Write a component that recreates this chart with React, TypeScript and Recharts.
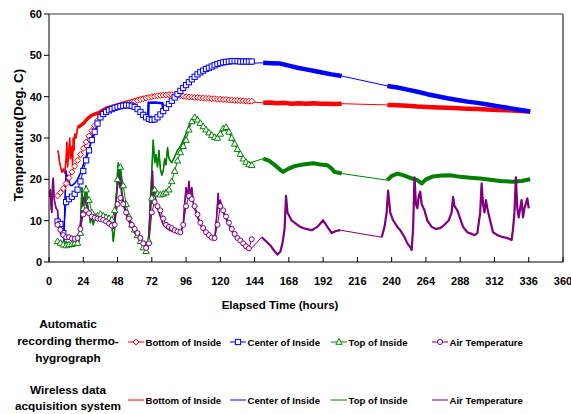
import React from 'react';
import { LineChart, Line, XAxis, YAxis, ReferenceLine, Label } from 'recharts';

type Pt = [number, number];

const xTicks = [0, 24, 48, 72, 96, 120, 144, 168, 192, 216, 240, 264, 288, 312, 336, 360];
const yTicks = [0, 10, 20, 30, 40, 50, 60];

// Automatic recording thermo-hygrograph: sampling hours
const autoHours = [
  6, 8, 10, 12, 14, 16, 18, 20, 22, 24,
  26, 28, 30, 32, 34, 36, 38, 40, 42, 44,
  46, 48, 50, 52, 54, 56, 58, 60, 62, 64,
  66, 68, 70, 72, 74, 76, 78, 80, 82, 84,
  86, 88, 90, 92, 94, 96, 98, 100, 102, 104,
  106, 108, 110, 112, 114, 116, 118, 120, 122, 124,
  126, 128, 130, 132, 134, 136, 138, 140, 142,
];

const autoBottom = [
  16, 16.8, 17.8, 19, 20.4, 21.8, 23.2, 24.6, 26, 27.5,
  29, 30.5, 31.8, 33, 34.2, 35.2, 35.9, 36.4, 36.8, 37.1,
  37.4, 37.7, 37.9, 38.1, 38.3, 38.5, 38.7, 38.9, 39.1, 39.3,
  39.5, 39.7, 39.8, 40, 40.1, 40.2, 40.3, 40.4, 40.4, 40.5,
  40.5, 40.4, 40.3, 40.2, 40.1, 40, 39.9, 39.9, 39.8, 39.8,
  39.7, 39.7, 39.6, 39.6, 39.5, 39.5, 39.4, 39.4, 39.3, 39.3,
  39.2, 39.2, 39.1, 39.1, 39, 39, 38.9, 38.9, 38.9,
];

const autoCenter = [
  9.8, 9.2, 7, 14.5, 15.2, 15.8, 16.5, 17.5, 19.5, 22,
  24.6, 27, 29.5, 31.5, 33.5, 35, 35.8, 36.3, 36.7, 37,
  37.3, 37.5, 37.7, 37.8, 37.9, 37.9, 37.8, 37.5, 37, 36.3,
  35.6, 35, 34.6, 34.4, 34.5, 35, 35.7, 36.5, 37.3, 38.2,
  39, 39.8, 40.6, 41.4, 42.1, 42.8, 43.5, 44.2, 44.8, 45.4,
  45.9, 46.3, 46.7, 47, 47.3, 47.6, 47.9, 48.1, 48.3, 48.4,
  48.5, 48.6, 48.6, 48.6, 48.5, 48.5, 48.5, 48.5, 48.5,
];

const autoTop = [
  5, 4.6, 4.2, 4, 4.2, 4.3, 4.5, 4.6, 7, 13,
  17.5, 15, 12, 11, 11.2, 11.6, 11.2, 10.8, 10.6, 10.2,
  12.5, 20, 23, 18.5, 14, 11, 9, 7.8, 6.5, 5,
  3.5, 2.6, 5, 15.5, 17.5, 16.5, 16.3, 16.5, 16.8, 17.5,
  19.5, 22, 24.5, 26.5, 28, 29.5, 32, 34, 35, 34.4,
  33.6, 32.8, 32, 31.3, 30.7, 30.2, 30, 31, 32.3, 32.6,
  31.5, 30, 28.6, 27.3, 26.1, 25, 24.2, 23.6, 23.4,
];

const autoAir = [
  9, 7.8, 6.5, 6, 6, 5.7, 5.6, 5.8, 8, 11.5,
  12.5, 11.8, 11, 10.7, 10.5, 10.4, 10.2, 9.8, 9.3, 8.8,
  9, 14, 15.5, 14, 12, 10.5, 9, 8, 7, 5.8,
  4.5, 3.4, 4.5, 12, 14.5, 13.5, 12.5, 10.5, 9, 8.5,
  8.2, 7.7, 7.4, 7.2, 9, 13.5, 16, 15.2, 13.5, 11.5,
  9.5, 8.2, 7.2, 6.5, 5.9, 5.8, 9, 13.5, 12.5, 11,
  9.5, 8, 6.8, 5.8, 5.2, 4.5, 3.8, 3.3, 5.5,
];

// Wireless data acquisition system: [hour, temperature] per recorded segment
const wBottom1: Pt[] = [
  [6.3, 27], [7.5, 24], [9, 21.7], [10, 22.5], [11, 21.5], [12, 25], [12.5, 29], [13, 23], [14, 27],
  [14.5, 30], [15, 25], [16, 28], [16.5, 23.5], [17, 30], [17.5, 27], [18, 31], [19, 30], [20, 32.5],
];
const wBottom2: Pt[] = [
  [20, 32.5], [22, 33], [24, 33.5], [26, 34.3], [28, 35], [30, 35.5], [32, 35.8], [34, 36], [36, 36.4],
  [38, 36.8], [40, 37.2], [44, 37.6], [48, 38], [52, 38.4], [56, 38.8], [60, 39.2], [64, 39.6], [68, 39.8],
  [72, 40], [76, 40.2], [80, 40.4], [84, 40.5], [88, 40.4], [92, 40.2], [96, 40], [100, 39.9], [104, 39.8],
  [108, 39.7], [112, 39.6], [116, 39.4], [120, 39.3], [124, 39.2], [128, 39.1], [132, 39], [136, 38.9],
  [140, 38.8], [143, 38.7],
];
const wBottom3: Pt[] = [
  [150, 38.5], [155, 38.6], [160, 38.4], [165, 38.5], [170, 38.3], [175, 38.4], [180, 38.3], [185, 38.4],
  [190, 38.3], [195, 38.3], [200, 38.2], [205, 38.3],
];
const wBottom4: Pt[] = [
  [237, 38], [244, 37.9], [251, 37.8], [258, 37.6], [265, 37.5], [272, 37.4], [279, 37.3], [286, 37.2],
  [293, 37.1], [300, 37], [307, 36.9], [314, 36.8], [321, 36.7], [328, 36.6], [337, 36.4],
];

const wCenter1: Pt[] = [
  [9.5, 4.6], [10.5, 5], [11, 12], [11.5, 18], [12, 22], [12.5, 20], [13, 21], [14, 19.5], [15, 18.5],
  [16, 18.5], [18, 19], [20, 20], [22, 21.5], [24, 23.5], [26, 25.5], [28, 27.5], [30, 29.5],
];
const wCenter2: Pt[] = [
  [30, 29.5], [32, 31.5], [34, 33.3], [36, 35], [40, 36.3], [44, 37], [48, 37.5], [52, 37.8], [56, 37.9],
  [60, 37.5], [64, 36.6], [68, 35.6], [69.5, 35.3], [69.7, 38.5], [74, 38.6], [79.5, 38.4], [80, 36.4],
  [82, 37.3], [84, 38.2], [88, 39.8], [92, 41.4], [96, 42.8], [100, 44.2], [104, 45.4], [108, 46.3],
  [112, 47], [116, 47.6], [120, 48.1], [124, 48.4], [128, 48.5], [132, 48.4], [136, 48.3], [140, 48.2],
  [143, 48.1],
];
const wCenter3: Pt[] = [
  [150, 48.2], [156, 48.1], [162, 48], [168, 47.5], [174, 47], [180, 46.6], [186, 46.2], [192, 45.8],
  [198, 45.4], [205, 45],
];
const wCenter4: Pt[] = [
  [237, 42.6], [244, 42.2], [251, 41.7], [258, 41.2], [265, 40.6], [272, 40.1], [279, 39.6], [286, 39.2],
  [293, 38.8], [300, 38.5], [307, 38.1], [314, 37.7], [321, 37.3], [328, 36.9], [337, 36.4],
];

const wTop1: Pt[] = [
  [7, 5], [8, 4.5], [10, 4], [12, 5], [14, 4], [16, 4.5], [18, 4.2], [20, 4.5], [21, 5], [22, 9], [23, 18],
  [24, 12], [25, 16], [26, 18.5], [27, 14], [28, 12], [29, 9.5], [30, 11], [31, 9], [32, 10.5], [34, 10],
  [36, 11.5], [38, 11], [40, 10.5], [42, 10], [44, 9], [45, 5], [46, 8], [47, 14], [48, 22], [48.6, 24],
  [49.5, 20], [50, 23], [51, 17], [52, 15], [54, 12], [56, 10], [58, 8.5], [60, 7], [62, 6], [64, 5],
  [66, 3.5], [67, 5], [68, 3], [69, 4], [70, 7], [71, 15], [72, 22], [73, 29.5], [74, 24], [75, 26],
  [76, 23], [77, 27], [78, 22.5], [79, 21], [80, 22], [81, 25], [82, 23.5], [83, 27.7], [84, 25], [86, 24],
  [88, 25.5], [90, 27], [92, 28], [94, 29.5], [96, 31], [98, 33], [100, 34.5], [102, 35], [104, 34.4],
  [106, 33.6], [108, 32.8], [110, 32], [112, 31.3], [114, 30.7], [116, 30.2], [118, 30], [120, 31],
  [122, 32.3], [124, 32.6], [126, 31.5], [128, 30], [130, 28.6], [132, 27.3], [134, 26.1], [136, 25],
  [138, 24.2], [141, 24],
];
const wTop2: Pt[] = [
  [150, 25], [154, 24.5], [158, 23.5], [162, 22.3], [164, 21.8], [168, 22.6], [172, 23.2], [178, 23.6],
  [185, 23.9], [190, 23.6], [195, 23.4], [198, 22.6], [200, 21.8], [205, 21.4],
];
const wTop3: Pt[] = [
  [237, 19.8], [240, 20.8], [244, 21.4], [248, 21], [252, 20.5], [256, 20], [258, 19.8], [261, 19],
  [264, 20], [269, 20.7], [275, 20.9], [281, 21], [288, 20.6], [295, 20.4], [302, 20.2], [309, 19.9],
  [316, 19.6], [325, 19.4], [331, 19.6], [337, 20],
];

const wAir1: Pt[] = [
  [0, 15.7], [1, 17.5], [1.5, 13], [2, 12], [2.5, 19], [3, 20.3], [3.5, 16], [4, 14.5], [5, 13], [6, 12.5],
  [6.5, 10], [7, 8.5], [8, 7], [9, 6.5], [10, 6], [12, 5.5], [14, 5.8], [16, 5.5], [18, 5.2], [20, 5.5],
  [21, 6.5], [22, 9], [23, 13], [24, 15], [25, 16], [26, 14], [27, 12.5], [28, 11.5], [30, 11], [32, 10.6],
  [34, 10.3], [36, 10], [38, 9.8], [40, 9.5], [42, 9], [44, 8.5], [45, 8.2], [46, 10], [47, 15], [48, 19],
  [48.6, 21.5], [49.5, 18], [50, 20.5], [51, 16], [52, 14], [54, 11.5], [56, 9.8], [58, 8.5], [60, 7.5],
  [62, 6.5], [64, 5.3], [66, 4], [68, 2.5], [69, 3.5], [70, 6], [71, 14], [72, 18], [72.5, 22], [73, 16],
  [74, 18], [75, 14], [76, 13], [78, 11], [80, 9], [82, 8.3], [84, 7.8], [86, 7.5], [88, 7.2], [90, 7],
  [92, 6.8], [94, 9], [95, 14], [96, 18], [97, 15.5], [98, 19.5], [99, 16], [100, 18], [101, 14.5],
  [102, 13], [104, 11], [106, 9], [108, 7.8], [110, 6.8], [112, 6], [114, 5.5], [116, 5.3], [117, 9],
  [118, 14], [118.5, 16.6], [119, 13], [120, 15], [121, 12.5], [122, 12], [124, 10.5], [126, 9], [128, 7.5],
  [130, 6.3], [132, 5.5], [134, 4.8], [136, 4], [138, 3.3], [140, 2.8], [141, 3],
];
const wAir2: Pt[] = [
  [149, 6], [152, 5], [155, 4], [158, 2.6], [160, 1.8], [162, 2.5], [163.5, 4.5], [165, 8], [166, 16],
  [167, 12], [168, 11.3], [170, 10], [172, 9.5], [174, 9], [176, 8.5], [180, 8], [184, 7.7], [188, 8.5],
  [192, 10.1], [195, 8.5], [198, 7], [201, 7.5], [204, 7.7],
];
const wAir3: Pt[] = [
  [233, 6], [235, 8.5], [236.5, 12], [237.5, 17.3], [239, 12], [241, 10.1], [244, 8.5], [246, 7.7],
  [249, 6], [251, 4.5], [253, 3.6], [254, 2.9], [255, 8], [256, 20.5], [257, 14], [258, 13], [259, 16],
  [260, 17], [261, 14], [263, 12.5], [265, 10], [268, 8.5], [271, 8], [274, 8.2], [277, 9], [280, 10.1],
  [282, 12], [283, 15.7], [284, 13.5], [286, 12.5], [288, 10.5], [290, 8.5], [293, 7.2], [296, 6.8],
  [298, 6.5], [300, 7], [302, 12], [303, 19], [304, 14], [305, 12], [306, 15], [307, 13], [309, 10],
  [311, 7.2], [314, 6.5], [318, 6], [321, 5.8], [324, 5.3], [325, 8], [326, 12], [327, 20.5], [328, 13],
  [329, 10.8], [330, 13], [331, 15], [332, 10.8], [333, 13], [335, 15.4], [336, 13],
];

const seriesNames = ['Bottom of Inside', 'Center of Inside', 'Top of Inside', 'Air Temperature'];
const groupTitles = [
  ['Automatic', 'recording thermo-', 'hygrograph'],
  ['Wireless data', 'acquisition system'],
];

const COLORS = ['#FF0000', '#0000FF', '#008000', '#800080'];
const MARKERS = ['diamond', 'square', 'triangle', 'circle'];
const FONT = '"Liberation Sans", Arial, Helvetica, sans-serif';

const autoValues = [autoBottom, autoCenter, autoTop, autoAir];
const wirelessSegments: Pt[][][] = [
  [wBottom1, wBottom2, wBottom3, wBottom4],
  [wCenter1, wCenter2, wCenter3, wCenter4],
  [wTop1, wTop2, wTop3],
  [wAir1, wAir2, wAir3],
];
const segmentWidths = [
  [1.5, 3.5, 4.5, 4.5],
  [1.5, 2.5, 4.5, 4.5],
  [1.5, 4, 4],
  [1.6, 2.2, 2.2],
];

const toRows = (pts: Pt[]) => pts.map(([h, v]) => ({ h, v }));
const autoRows = (vals: number[]) => autoHours.map((h, i) => ({ h, v: vals[i] }));

function Marker({ kind, cx, cy, color }: { kind: string; cx: number; cy: number; color: string }) {
  const common = { fill: '#fff', stroke: color, strokeWidth: 1 };
  if (kind === 'diamond')
    return <path d={`M${cx} ${cy - 3}L${cx + 3} ${cy}L${cx} ${cy + 3}L${cx - 3} ${cy}Z`} {...common} />;
  if (kind === 'square') return <rect x={cx - 2.6} y={cy - 2.6} width={5.2} height={5.2} {...common} />;
  if (kind === 'triangle')
    return <path d={`M${cx} ${cy - 3.4}L${cx + 3.2} ${cy + 2.3}L${cx - 3.2} ${cy + 2.3}Z`} {...common} />;
  return <circle cx={cx} cy={cy} r={2.5} {...common} />;
}

const makeDot = (kind: string, color: string) => (props: any) => {
  const { cx, cy, index } = props;
  if (cx == null || cy == null || Number.isNaN(cx) || Number.isNaN(cy)) return <g key={`d-${index}`} />;
  return (
    <g key={`d-${index}`}>
      <Marker kind={kind} cx={cx} cy={cy} color={color} />
    </g>
  );
};

const tickStyle = { fontSize: 11, fontWeight: 700, fill: '#000', fontFamily: FONT };

export default function App() {
  const legendRowsY = [342, 400];
  const itemX = [128, 230, 331, 432];
  const groupX = 68;
  return (
    <div style={{ position: 'absolute', left: 0, top: 0, width: 571, height: 414, background: '#fff', fontFamily: FONT }}>
      <LineChart width={571} height={314} margin={{ top: 14, right: 8, bottom: 0, left: 0 }}>
        <XAxis
          type="number"
          dataKey="h"
          domain={[0, 360]}
          ticks={xTicks}
          interval={0}
          height={52}
          tickSize={-5}
          tickMargin={20}
          axisLine={{ stroke: '#000', strokeWidth: 1 }}
          tickLine={{ stroke: '#000' }}
          tick={tickStyle}
          allowDataOverflow
        >
          <Label
            value="Elapsed Time (hours)"
            position="insideBottom"
            offset={5}
            dx={-26}
            style={{ fontSize: 11.5, fontWeight: 700, fill: '#000', fontFamily: FONT }}
          />
        </XAxis>
        <YAxis
          type="number"
          domain={[0, 60]}
          ticks={yTicks}
          interval={0}
          width={49}
          tickSize={5}
          tickMargin={2}
          axisLine={{ stroke: '#000', strokeWidth: 1 }}
          tickLine={{ stroke: '#000' }}
          tick={tickStyle}
          allowDataOverflow
        >
          <Label
            value="Temperature(Deg. C)"
            angle={-90}
            position="insideLeft"
            offset={18}
            dy={-3}
            style={{ textAnchor: 'middle', fontSize: 13.5, fontWeight: 700, fill: '#000', fontFamily: FONT }}
          />
        </YAxis>
        <ReferenceLine y={60} stroke="#333" strokeWidth={1} />
        <ReferenceLine x={360} stroke="#7f7f7f" strokeWidth={2} />

        {wirelessSegments.map((segs, si) => (
          <Line
            key={`wc-${si}`}
            data={toRows(segs.flat())}
            dataKey="v"
            type="linear"
            stroke={COLORS[si]}
            strokeWidth={1}
            dot={false}
            activeDot={false}
            isAnimationActive={false}
          />
        ))}
        {wirelessSegments.flatMap((segs, si) =>
          segs.map((seg, gi) => (
            <Line
              key={`wb-${si}-${gi}`}
              data={toRows(seg)}
              dataKey="v"
              type="linear"
              stroke={COLORS[si]}
              strokeWidth={segmentWidths[si][gi]}
              strokeLinejoin="round"
              dot={false}
              activeDot={false}
              isAnimationActive={false}
            />
          ))
        )}
        {autoValues.map((vals, si) => (
          <Line
            key={`auto-${si}`}
            data={autoRows(vals)}
            dataKey="v"
            type="linear"
            stroke={COLORS[si]}
            strokeWidth={1}
            dot={makeDot(MARKERS[si], COLORS[si])}
            activeDot={false}
            isAnimationActive={false}
          />
        ))}
      </LineChart>

      <svg width={571} height={414} style={{ position: 'absolute', left: 0, top: 0, pointerEvents: 'none' }}>
        <text fontSize={11.8} fontWeight={700} fontFamily={FONT} textAnchor="middle" fill="#000">
          <tspan x={groupX} y={327.5}>{groupTitles[0][0]}</tspan>
          <tspan x={groupX} y={344.5}>{groupTitles[0][1]}</tspan>
          <tspan x={groupX} y={361.5}>{groupTitles[0][2]}</tspan>
        </text>
        <text fontSize={11.8} fontWeight={700} fontFamily={FONT} textAnchor="middle" fill="#000">
          <tspan x={groupX} y={394.3}>{groupTitles[1][0]}</tspan>
          <tspan x={groupX} y={410}>{groupTitles[1][1]}</tspan>
        </text>
        {legendRowsY.map((ry, row) =>
          seriesNames.map((name, i) => (
            <g key={`lg-${row}-${i}`}>
              <line x1={itemX[i]} x2={itemX[i] + 16} y1={ry} y2={ry} stroke={COLORS[i]} strokeWidth={1} />
              {row === 0 && <Marker kind={MARKERS[i]} cx={itemX[i] + 8} cy={ry} color={COLORS[i]} />}
              <text x={itemX[i] + 17.5} y={ry + 3.6} fontSize={9.6} fontWeight={700} fontFamily={FONT} fill="#000">
                {name}
              </text>
            </g>
          ))
        )}
      </svg>
    </div>
  );
}
